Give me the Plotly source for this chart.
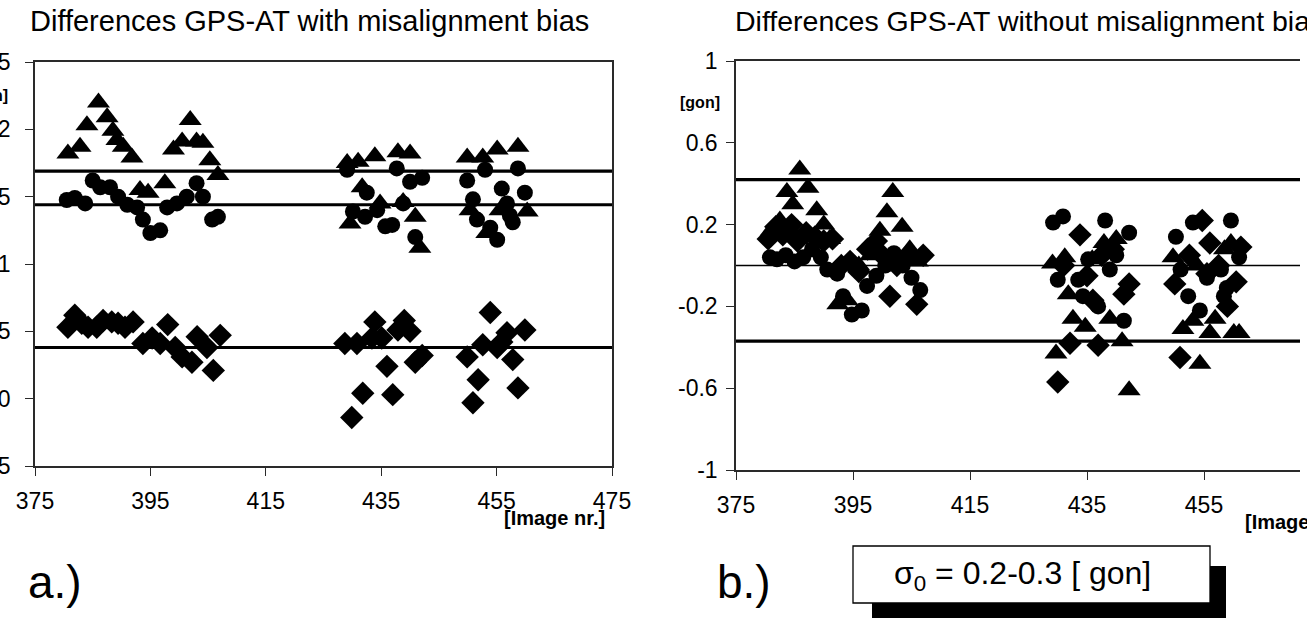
import plotly.graph_objects as go

# ---------------- data: panel a (with misalignment bias) ----------------
tri_a_x = [380.7, 382.8, 384.0, 386.0, 387.5, 388.5, 389.2, 390.3, 391.8, 393.2, 394.6, 397.5, 399.0, 400.5, 401.9, 403.0, 404.1, 405.3, 406.7,
           429.1, 429.6, 431.0, 431.7, 433.9, 434.8, 437.9, 438.8, 440.0, 440.9, 441.7,
           449.9, 450.4, 452.6, 453.3, 455.1, 455.6, 458.7, 460.3]
tri_a_y = [1.82, 1.87, 2.03, 2.20, 2.09, 1.99, 1.92, 1.87, 1.79, 1.55, 1.53, 1.60, 1.85, 1.91, 2.07, 1.91, 1.90, 1.77, 1.66,
           1.75, 1.30, 1.76, 1.57, 1.80, 1.45, 1.83, 1.46, 1.82, 1.35, 1.12,
           1.79, 1.40, 1.79, 1.23, 1.85, 1.40, 1.87, 1.39]

circ_a_x = [380.5, 381.9, 383.7, 385.0, 386.3, 388.0, 389.4, 391.0, 392.7, 393.7, 395.0, 396.7, 397.9, 399.6, 401.3, 403.0, 404.1, 405.7, 406.7,
            429.1, 430.1, 432.2, 432.5, 434.3, 435.7, 436.9, 437.7, 438.8, 440.0, 440.9, 442.1,
            449.9, 450.9, 451.6, 453.0, 453.9, 455.1, 455.9, 456.8, 457.3, 457.8, 458.7, 459.9]
circ_a_y = [1.475, 1.49, 1.45, 1.62, 1.57, 1.57, 1.50, 1.44, 1.42, 1.33, 1.23, 1.25, 1.42, 1.45, 1.50, 1.60, 1.50, 1.33, 1.35,
            1.70, 1.39, 1.35, 1.53, 1.40, 1.28, 1.29, 1.71, 1.45, 1.61, 1.20, 1.64,
            1.62, 1.48, 1.33, 1.70, 1.27, 1.18, 1.56, 1.45, 1.36, 1.31, 1.71, 1.53]

dia_a_x = [380.7, 381.9, 383.1, 384.2, 385.7, 386.8, 388.3, 389.4, 390.6, 392.0, 393.7, 395.3, 396.7, 398.0, 399.3, 400.5, 402.2, 403.1, 404.8, 405.9, 407.1,
           428.7, 429.9, 430.8, 431.8, 433.4, 433.9, 435.1, 436.0, 437.0, 437.9, 439.0, 440.0, 440.9, 442.1,
           449.9, 450.9, 451.8, 452.6, 453.9, 455.1, 455.9, 456.8, 457.8, 458.7, 459.9]
dia_a_y = [0.53, 0.62, 0.56, 0.53, 0.53, 0.58, 0.57, 0.56, 0.53, 0.57, 0.41, 0.45, 0.41, 0.55, 0.38, 0.31, 0.27, 0.46, 0.38, 0.21, 0.47,
           0.41, -0.14, 0.41, 0.04, 0.45, 0.57, 0.45, 0.24, 0.03, 0.51, 0.58, 0.50, 0.27, 0.32,
           0.31, -0.03, 0.14, 0.40, 0.64, 0.38, 0.42, 0.49, 0.29, 0.08, 0.51]

mean_lines_a = [1.69, 1.44, 0.38]

# ---------------- data: panel b (without misalignment bias) ----------------
tri_b_x = [381.0, 382.5, 383.7, 384.7, 385.9, 387.3, 388.8, 390.0, 391.0, 392.4, 394.0, 396.0, 398.0, 399.6, 400.8, 401.8, 403.4, 404.7, 406.0,
           429.1, 429.7, 431.2, 431.8, 432.6, 434.7, 435.9, 437.9, 438.9, 440.0, 441.0, 442.2,
           449.7, 451.4, 453.1, 453.8, 454.3, 456.0, 456.9, 458.5, 459.6, 460.1, 461.0]
tri_b_y = [0.17, 0.22, 0.36, 0.30, 0.47, 0.38, 0.27, 0.20, 0.13, -0.19, -0.17, 0.00, 0.05, 0.17, 0.26, 0.36, 0.19, 0.08, 0.02,
           0.01, -0.43, 0.04, -0.14, -0.26, -0.30, 0.03, 0.11, -0.26, 0.13, -0.37, -0.61,
           0.04, -0.31, -0.27, 0.00, -0.48, -0.33, -0.26, 0.08, 0.11, -0.33, -0.33]

circ_b_x = [380.8, 382.0, 383.5, 385.0, 386.5, 388.0, 389.5, 390.6, 392.3, 393.3, 394.8, 396.5, 397.4, 399.0, 400.5, 402.0, 403.5, 405.0, 406.5,
            429.2, 430.0, 430.9, 433.5, 434.3, 435.2, 436.9, 438.1, 438.9, 440.0, 441.3, 442.2,
            450.2, 451.0, 452.3, 453.1, 454.3, 455.5, 457.9, 458.4, 458.9, 459.6, 461.0]
circ_b_y = [0.04, 0.03, 0.05, 0.02, 0.04, 0.08, 0.04, -0.02, -0.04, -0.15, -0.24, -0.22, -0.10, -0.05, 0.00, 0.06, 0.00, -0.06, -0.12,
            0.21, -0.07, 0.24, -0.07, -0.15, 0.03, -0.20, 0.22, -0.02, 0.05, -0.27, 0.16,
            0.14, -0.02, -0.15, 0.21, -0.22, -0.06, -0.02, -0.15, -0.11, 0.22, 0.04]

dia_b_x = [380.5, 381.8, 383.0, 384.5, 385.5, 387.0, 388.5, 390.0, 391.5, 393.0, 394.5, 396.0, 397.5, 399.0, 400.0, 401.3, 402.5, 404.0, 405.9, 407.0,
           430.0, 431.0, 432.1, 433.8, 435.0, 436.0, 436.9, 437.5, 439.5, 441.3, 442.2,
           450.0, 450.9, 452.5, 454.7, 455.5, 456.0, 457.5, 459.0, 460.5, 461.3]
dia_b_y = [0.13, 0.19, 0.15, 0.20, 0.12, 0.16, 0.14, 0.12, 0.13, 0.00, 0.02, -0.03, 0.08, 0.12, 0.05, -0.15, 0.00, 0.04, -0.19, 0.05,
           -0.57, 0.00, -0.38, 0.15, -0.05, -0.17, -0.39, 0.05, 0.08, -0.14, -0.09,
           -0.09, -0.45, 0.05, 0.22, -0.04, 0.11, 0.00, -0.20, -0.08, 0.09]

mean_lines_b = [0.42, 0.0, -0.37]

x_ticks = [375, 395, 415, 435, 455, 475]
y_ticks_a = [-0.5, 0, 0.5, 1, 1.5, 2, 2.5]
y_ticks_b = [-1, -0.6, -0.2, 0.2, 0.6, 1]

# ---------------- figure ----------------
W, H = 1307, 618
FONT = "Liberation Sans, Arial, sans-serif"
AX = "#2a2a2a"


def px_x(p):
    return p / W


def px_y(p):
    return 1 - p / H


fig = go.Figure()

for xs, ys, sym, sz, xa, ya in [
    (tri_a_x, tri_a_y, "triangle-up", 20, "x", "y"),
    (circ_a_x, circ_a_y, "circle", 16, "x", "y"),
    (dia_a_x, dia_a_y, "diamond", 18, "x", "y"),
    (tri_b_x, tri_b_y, "triangle-up", 20, "x2", "y2"),
    (circ_b_x, circ_b_y, "circle", 16, "x2", "y2"),
    (dia_b_x, dia_b_y, "diamond", 18, "x2", "y2"),
]:
    fig.add_trace(go.Scatter(x=xs, y=ys, mode="markers", xaxis=xa, yaxis=ya,
                             marker=dict(symbol=sym, size=sz, color="black",
                                         line=dict(width=0)),
                             showlegend=False, hoverinfo="skip"))

shapes = []
for v in mean_lines_a:
    shapes.append(dict(type="line", xref="x domain", yref="y", x0=0, x1=1, y0=v, y1=v,
                       line=dict(color="black", width=3.2), layer="above"))
for v, w in zip(mean_lines_b, [3.2, 1.4, 3.2]):
    shapes.append(dict(type="line", xref="x2 domain", yref="y2", x0=0, x1=1, y0=v, y1=v,
                       line=dict(color="black", width=w), layer="above"))

# sigma box with shadow
shapes.append(dict(type="rect", xref="paper", yref="paper",
                   x0=px_x(872), x1=px_x(1226), y0=px_y(620), y1=px_y(566),
                   fillcolor="black", line=dict(width=0), layer="above"))
shapes.append(dict(type="rect", xref="paper", yref="paper",
                   x0=px_x(853), x1=px_x(1210), y0=px_y(603), y1=px_y(546),
                   fillcolor="white", line=dict(color="black", width=1.3), layer="above"))

dom_a_x = [px_x(35), px_x(612)]
dom_a_y = [px_y(466), px_y(62)]
dom_b_x = [px_x(736), px_x(1300)]
dom_b_y = [px_y(470), px_y(61)]
xr_b = [375, 375 + (1300 - 736) / 5.85]

tickfont = dict(family=FONT, size=23, color="black")
common = dict(showgrid=False, zeroline=False, linecolor=AX, linewidth=1.5, automargin=False,
              tickcolor=AX, tickwidth=1.3, ticklen=8, ticks="outside", tickfont=tickfont)
overlay = dict(ticks="inside", ticklen=8, tickcolor=AX, tickwidth=1.3, showticklabels=False,
               showgrid=False, zeroline=False, showline=False, automargin=False)

fig.update_layout(
    width=W, height=H, margin=dict(l=0, r=0, t=0, b=0, autoexpand=False),
    plot_bgcolor="white", paper_bgcolor="white",
    xaxis=dict(domain=dom_a_x, range=[375, 475], tickvals=x_ticks, anchor="y",
               showline=True, mirror=True, ticklabelstandoff=6, **common),
    yaxis=dict(domain=dom_a_y, range=[-0.5, 2.5], tickvals=y_ticks_a, anchor="x",
               ticktext=["-0.5", "0", "0.5", "1", "1.5", "2", "2.5"],
               showline=True, mirror=True, ticklabelstandoff=10, **common),
    xaxis2=dict(domain=dom_b_x, range=xr_b, tickvals=x_ticks[:-1],
                anchor="y2", showline=True, mirror=True, ticklabelstandoff=6, **common),
    yaxis2=dict(domain=dom_b_y, range=[-1, 1], tickvals=y_ticks_b, anchor="x2",
                ticktext=["-1", "-0.6", "-0.2", "0.2", "0.6", "1"],
                showline=True, mirror=False, ticklabelstandoff=4, **common),
    # overlay axes to make ticks cross the axis lines
    xaxis3=dict(overlaying="x", anchor="y", range=[375, 475], tickvals=x_ticks, **overlay),
    yaxis3=dict(overlaying="y", anchor="x", range=[-0.5, 2.5], tickvals=y_ticks_a, **overlay),
    xaxis4=dict(overlaying="x2", anchor="y2", range=xr_b, tickvals=x_ticks[:-1], **overlay),
    yaxis4=dict(overlaying="y2", anchor="x2", range=[-1, 1], tickvals=y_ticks_b, **overlay),
    shapes=shapes,
)

ann = []


def text(s, x, y, size, xanchor="left", yanchor="middle", bold=False):
    ann.append(dict(text=("<b>%s</b>" % s) if bold else s, xref="paper", yref="paper",
                    x=px_x(x), y=px_y(y), xanchor=xanchor, yanchor=yanchor, showarrow=False,
                    font=dict(family=FONT, size=size, color="black")))


text("Differences GPS-AT with misalignment bias", 28, 21, 29)
text("Differences GPS-AT without misalignment bias", 733, 21, 28.5)
text("[gon]", 10, 95, 16, xanchor="right", bold=True)
text("[gon]", 722, 102, 16, xanchor="right", bold=True)
text("[Image nr.]", 607, 518, 20, xanchor="right", bold=True)
text("[Image nr.]", 1243, 522, 20, xanchor="left", bold=True)
text("a.)", 26, 582, 46)
text("b.)", 715, 582, 46)
text("σ<sub>0</sub> = 0.2-0.3 [ gon]", 1022, 575, 32, xanchor="center")

fig.update_layout(annotations=ann)
fig.write_html("out.html")
